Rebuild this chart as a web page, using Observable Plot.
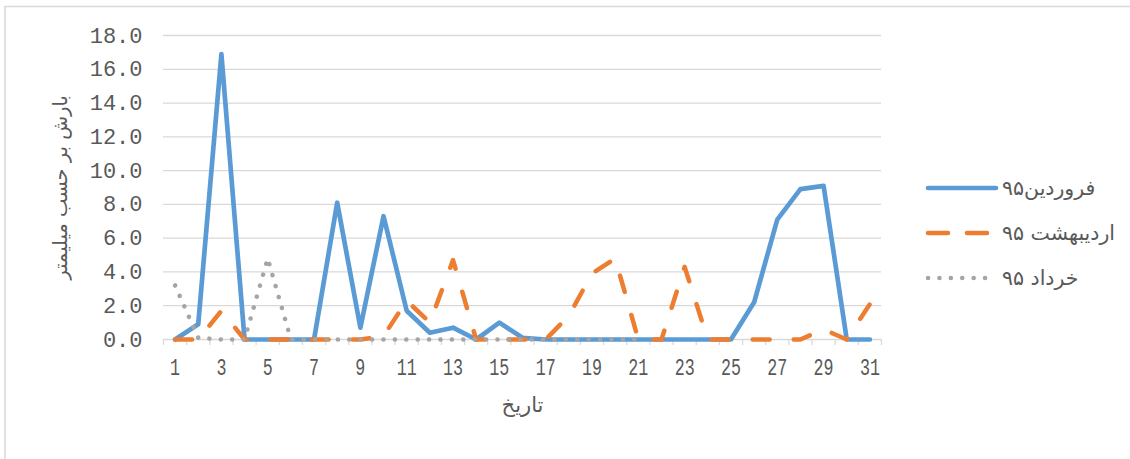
<!DOCTYPE html>
<html><head><meta charset="utf-8">
<script src="https://cdn.jsdelivr.net/npm/d3@7"></script>
<script src="https://cdn.jsdelivr.net/npm/@observablehq/plot@0.6"></script>
<style>body{margin:0;background:#fff}#chart{width:1130px;height:459px}</style>
</head><body><div id="chart"></div>
<script>
// Categories: days of the month
const days = [1,2,3,4,5,6,7,8,9,10,11,12,13,14,15,16,17,18,19,20,21,22,23,24,25,26,27,28,29,30,31];
// Series values (mm)
const farvardin   = [0,0.9,16.9,0,0,0,0,8.1,0.7,7.3,1.7,0.4,0.7,0,1.0,0.1,0,0,0,0,0,0,0,0,0,2.2,7.1,8.9,9.1,0,0];
const ordibehesht = [0,0,1.7,0,0,0,0,0,0,0.2,2.3,1.0,4.7,0,0,0,0,1.4,3.9,4.8,0,0,4.3,0,0,0,0,0,0.6,0,2.1];
const khordad     = [3.2,0.1,0,0,4.8,0,0,0,0,0,0,0,0,0,0,0,0,0,0,0,0,null,null,null,null,null,null,null,null,null,null];
const seriesNames = ["فروردین۹۵","اردیبهشت ۹۵","خرداد ۹۵"];
const seriesColors = ["#5b9bd5","#ed7d31","#a5a5a5"];
const yTicks = [0,2,4,6,8,10,12,14,16,18];
const xLabels = [1,3,5,7,9,11,13,15,17,19,21,23,25,27,29,31];
const yTitle = "بارش بر حسب میلیمتر";
const xTitle = "تاریخ";

const toRows = (vals, name) => days.map((d, i) => ({day: d, value: vals[i], series: name}));
const rowsF = toRows(farvardin, seriesNames[0]);
const rowsO = toRows(ordibehesht, seriesNames[1]);
const rowsK = toRows(khordad, seriesNames[2]);
const boundaries = days.map(d => d - 0.5).concat([days[days.length - 1] + 0.5]);

const styles = [
  {stroke: seriesColors[0], strokeWidth: 4.7, strokeLinecap: "round", strokeLinejoin: "round"},
  {stroke: seriesColors[1], strokeWidth: 4.5, strokeLinecap: "round", strokeLinejoin: "round", strokeDasharray: "17,24"},
  {stroke: seriesColors[2], strokeWidth: 4.5, strokeLinecap: "round", strokeLinejoin: "round", strokeDasharray: "0.1,11.3"}
];

const chart = Plot.plot({
  width: 1130, height: 459,
  marginLeft: 163, marginRight: 249, marginTop: 35, marginBottom: 120,
  x: {type: "linear", domain: [boundaries[0], boundaries[boundaries.length - 1]], label: null},
  y: {domain: [0, 18], label: null},
  style: {fontFamily: "'Liberation Mono', monospace", color: "#595959", background: "white"},
  marks: [
    Plot.ruleY(yTicks, {stroke: "#d9d9d9", strokeWidth: 1.3}),
    Plot.axisX({ticks: boundaries, tickSize: 6, tickFormat: () => "", stroke: "#d9d9d9", strokeWidth: 1.3, strokeOpacity: 1, label: null}),
    Plot.axisX({ticks: xLabels, tickSize: 0, tickPadding: 19, fontSize: 23, fill: "#595959", label: null}),
    Plot.axisY({ticks: yTicks, tickSize: 0, tickPadding: 21, tickFormat: d3.format(".1f"), fontSize: 22, fill: "#595959", label: null}),
    Plot.line(rowsF, {x: "day", y: "value", ...styles[0]}),
    Plot.line(rowsO, {x: "day", y: "value", ...styles[1]}),
    Plot.line(rowsK, {x: "day", y: "value", ...styles[2]}),
    Plot.text([yTitle], {frameAnchor: "left", textAnchor: "middle", dx: -103, rotate: -90, fontSize: 19.5, fontFamily: "DejaVu Sans", fill: "#595959"}),
    Plot.text([xTitle], {frameAnchor: "bottom", dy: 72, fontSize: 21, fontFamily: "DejaVu Sans", fill: "#595959"})
  ]
});
document.getElementById("chart").appendChild(chart);

const svg = d3.select(chart);
// compress x tick labels horizontally like the reference
svg.selectAll('g[aria-label="x-axis tick label"] text').each(function() {
  const t = this.textContent;
  if (t && t.length) d3.select(this).attr("textLength", t.length * 10).attr("lengthAdjust", "spacingAndGlyphs");
});
// chart area border (top and left edges)
svg.append("path").attr("d", "M5,459V6.5H1130").attr("fill", "none").attr("stroke", "#d9d9d9").attr("stroke-width", 1.6);
// legend
const leg = svg.append("g").attr("font-family", "DejaVu Sans").attr("font-size", 20.5).attr("fill", "#595959");
seriesNames.forEach((name, i) => {
  const y = 188 + i * 45;
  const s = styles[i];
  leg.append("line").attr("x1", 928).attr("x2", 996).attr("y1", y).attr("y2", y)
    .attr("stroke", s.stroke).attr("stroke-width", s.strokeWidth).attr("stroke-linecap", "round")
    .attr("stroke-dasharray", i === 1 ? "20,19" : (s.strokeDasharray || null));
  leg.append("text").attr("x", 1002).attr("y", y).attr("dy", "0.35em").attr("text-anchor", "start").text(name);
});
</script>
</body></html>
